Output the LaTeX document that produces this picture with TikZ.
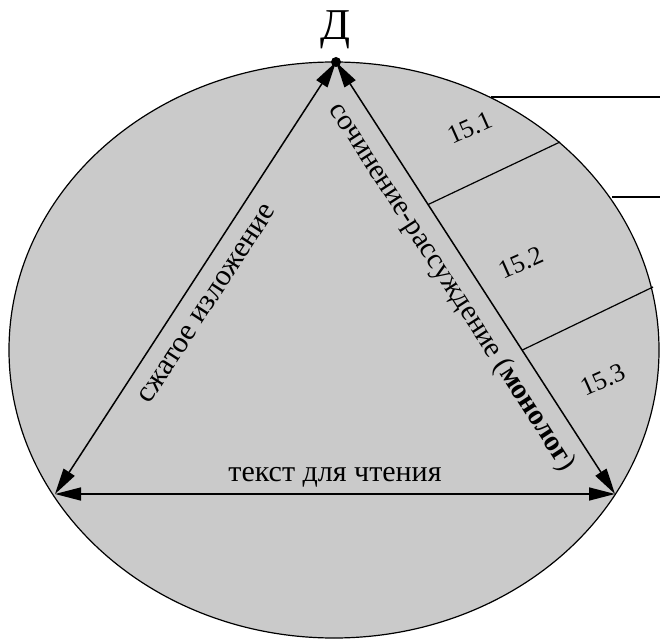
\documentclass[tikz,border=0pt]{standalone}
\usepackage{fontspec}
\setmainfont{Liberation Serif}
\usetikzlibrary{arrows.meta,positioning,calc}
\definecolor{fieldgray}{RGB}{202,202,202}

\begin{document}
\begin{tikzpicture}[x=1pt, y=1pt,
    field/.style={draw=black, line width=1.2pt, fill=fieldgray},
    edge/.style={draw=black, line width=1.5pt, {Triangle[length=26pt,width=13pt]}-{Triangle[length=26pt,width=13pt]}},
    divider/.style={draw=black, line width=1.2pt},
    lab/.style={font=\fontsize{30}{32}\selectfont, inner sep=4pt},
    num/.style={font=\fontsize{26}{28}\selectfont, rotate=24},
    title/.style={font=\fontsize{44}{46}\selectfont, inner sep=0pt}
]
    \useasboundingbox (0,0) rectangle (660,640);
    \clip (0,0) rectangle (660,640);

    % Поле
    \draw[field] (334,290) ellipse [x radius=325, y radius=288];

    % Вершины треугольника
    \coordinate (D) at (336,578);
    \coordinate (L) at (55,146);
    \coordinate (R) at (615,146);

    % Линии справа
    \coordinate (h1a) at (491,543);
    \coordinate (h1b) at (660,543);
    \coordinate (h2a) at (612,443);
    \coordinate (h2b) at (660,443);
    \draw[divider] (h1a) -- (h1b);
    \draw[divider] (h2a) -- (h2b);

    % Деление на 15.1, 15.2, 15.3
    \coordinate (s1) at ($(D)!0.33!(R)$);
    \coordinate (s2) at ($(D)!0.667!(R)$);
    \coordinate (e1) at (560,498);
    \coordinate (e2) at (653,353);
    \draw[divider] (s1) -- (e1);
    \draw[divider] (s2) -- (e2);
    \node[num] (n1) at (470,512) {15.1};
    \node[num] (n2) at (521,377) {15.2};
    \node[num] (n3) at (603,260) {15.3};

    % Стороны треугольника
    \draw[edge] (L) -- node[lab, sloped, below=12pt, pos=0.47] (szh) {сжатое изложение} (D);
    \draw[edge] (D) -- node[lab, sloped, below=7pt, pos=0.49, font=\fontsize{29}{32}\selectfont] (soch) {сочинение-рассуждение (\textbf{монолог})} (R);
    \draw[edge] (L) -- node[lab, above=2pt] (txt) {текст для чтения} (R);

    % Вершина Д
    \fill (D) circle (5);
    \node[title] (dlab) at (336,610) {Д};
\end{tikzpicture}
\end{document}
